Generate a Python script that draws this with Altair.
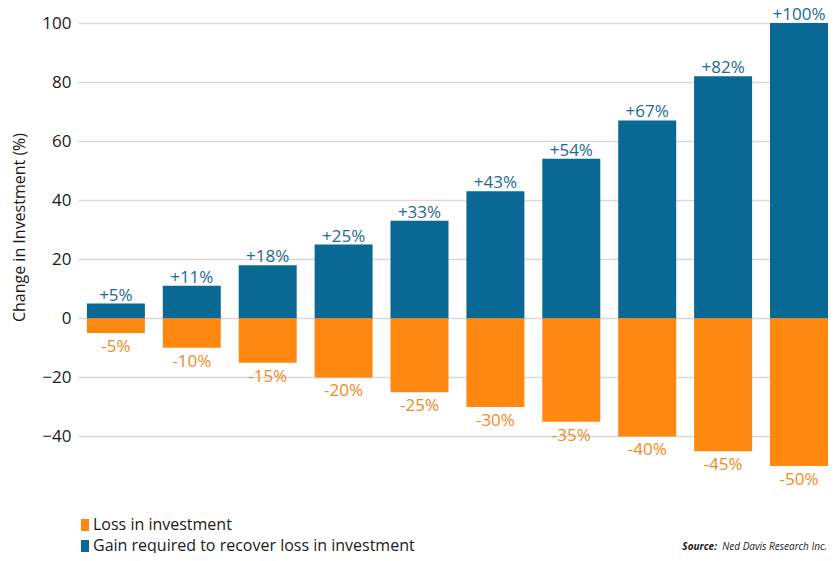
import altair as alt
import pandas as pd

categories = [f"D{i}" for i in range(1, 11)]
losses = [-5, -10, -15, -20, -25, -30, -35, -40, -45, -50]
gains = [5, 11, 18, 25, 33, 43, 54, 67, 82, 100]
loss_labels = ["-5%", "-10%", "-15%", "-20%", "-25%", "-30%", "-35%", "-40%", "-45%", "-50%"]
gain_labels = ["+5%", "+11%", "+18%", "+25%", "+33%", "+43%", "+54%", "+67%", "+82%", "+100%"]
series = ["Loss in investment", "Gain required to recover loss in investment"]
colors = ["#ff8811", "#0a6894"]
y_ticks = [-40, -20, 0, 20, 40, 60, 80, 100]

FONT = "Open Sans"

rows = []
for c, v, l in zip(categories, losses, loss_labels):
    rows.append({"cat": c, "series": series[0], "value": v, "label": l})
for c, v, l in zip(categories, gains, gain_labels):
    rows.append({"cat": c, "series": series[1], "value": v, "label": l})
df = pd.DataFrame(rows)

x_enc = alt.X("cat:N", sort=categories, axis=None,
              scale=alt.Scale(paddingInner=0.236, paddingOuter=0.0586, align=1))

bars = alt.Chart(df).mark_bar().encode(
    x=x_enc,
    y=alt.Y("value:Q",
            scale=alt.Scale(domain=[-50, 100], nice=False, zero=False),
            axis=alt.Axis(values=y_ticks, title="Change in Investment (%)",
                          grid=True, gridColor="#d9d9d9", gridWidth=1.5,
                          domain=False, ticks=False, labelPadding=7,
                          labelFontSize=17, labelColor="#1a1a1a", labelFont=FONT,
                          titleFont=FONT, titleFontSize=16, titleFontWeight="normal",
                          titleColor="#1a1a1a", titlePadding=14, titleY=204)),
    color=alt.Color("series:N",
                    scale=alt.Scale(domain=series, range=colors),
                    legend=alt.Legend(title=None, orient="none", legendX=-1, legendY=494,
                                      direction="vertical", padding=0,
                                      symbolType="M-1,-1.5H1V1.5H-1Z",
                                      symbolSize=64, symbolStrokeWidth=0,
                                      symbolOpacity=1,
                                      labelFont=FONT, labelFontSize=16,
                                      labelColor="#1a1a1a", labelOffset=0,
                                      rowPadding=5, labelLimit=500)),
)

gain_text = alt.Chart(df).transform_filter(
    alt.datum.series == series[1]
).mark_text(baseline="alphabetic", dy=-3, fontSize=17, font=FONT, color="#1d6a96").encode(
    x=x_enc, y="value:Q", text="label:N"
)

loss_text = alt.Chart(df).transform_filter(
    alt.datum.series == series[0]
).mark_text(baseline="top", dy=6, fontSize=17, font=FONT, color="#f28a1c").encode(
    x=x_enc, y="value:Q", text="label:N"
)

src_df = pd.DataFrame({"a": ["Source:"], "b": ["Ned Davis Research Inc."]})
src1 = alt.Chart(src_df).mark_text(align="right", baseline="middle", fontSize=10,
                                   font=FONT, fontStyle="italic", fontWeight="bold",
                                   color="#1a1a1a").encode(
    x=alt.value(639), y=alt.value(524), text="a:N")
src2 = alt.Chart(src_df).mark_text(align="right", baseline="middle", fontSize=10,
                                   font=FONT, fontStyle="italic",
                                   color="#1a1a1a").encode(
    x=alt.value(749), y=alt.value(524), text="b:N")

chart = alt.layer(bars, gain_text, loss_text, src1, src2).properties(
    width=750, height=443,
    autosize=alt.AutoSizeParams(type="none"),
    padding={"left": 70, "top": 15, "right": 0, "bottom": 87},
).configure_view(stroke=None)

chart.save("out.html", embed_options={"renderer": "svg", "actions": False})
